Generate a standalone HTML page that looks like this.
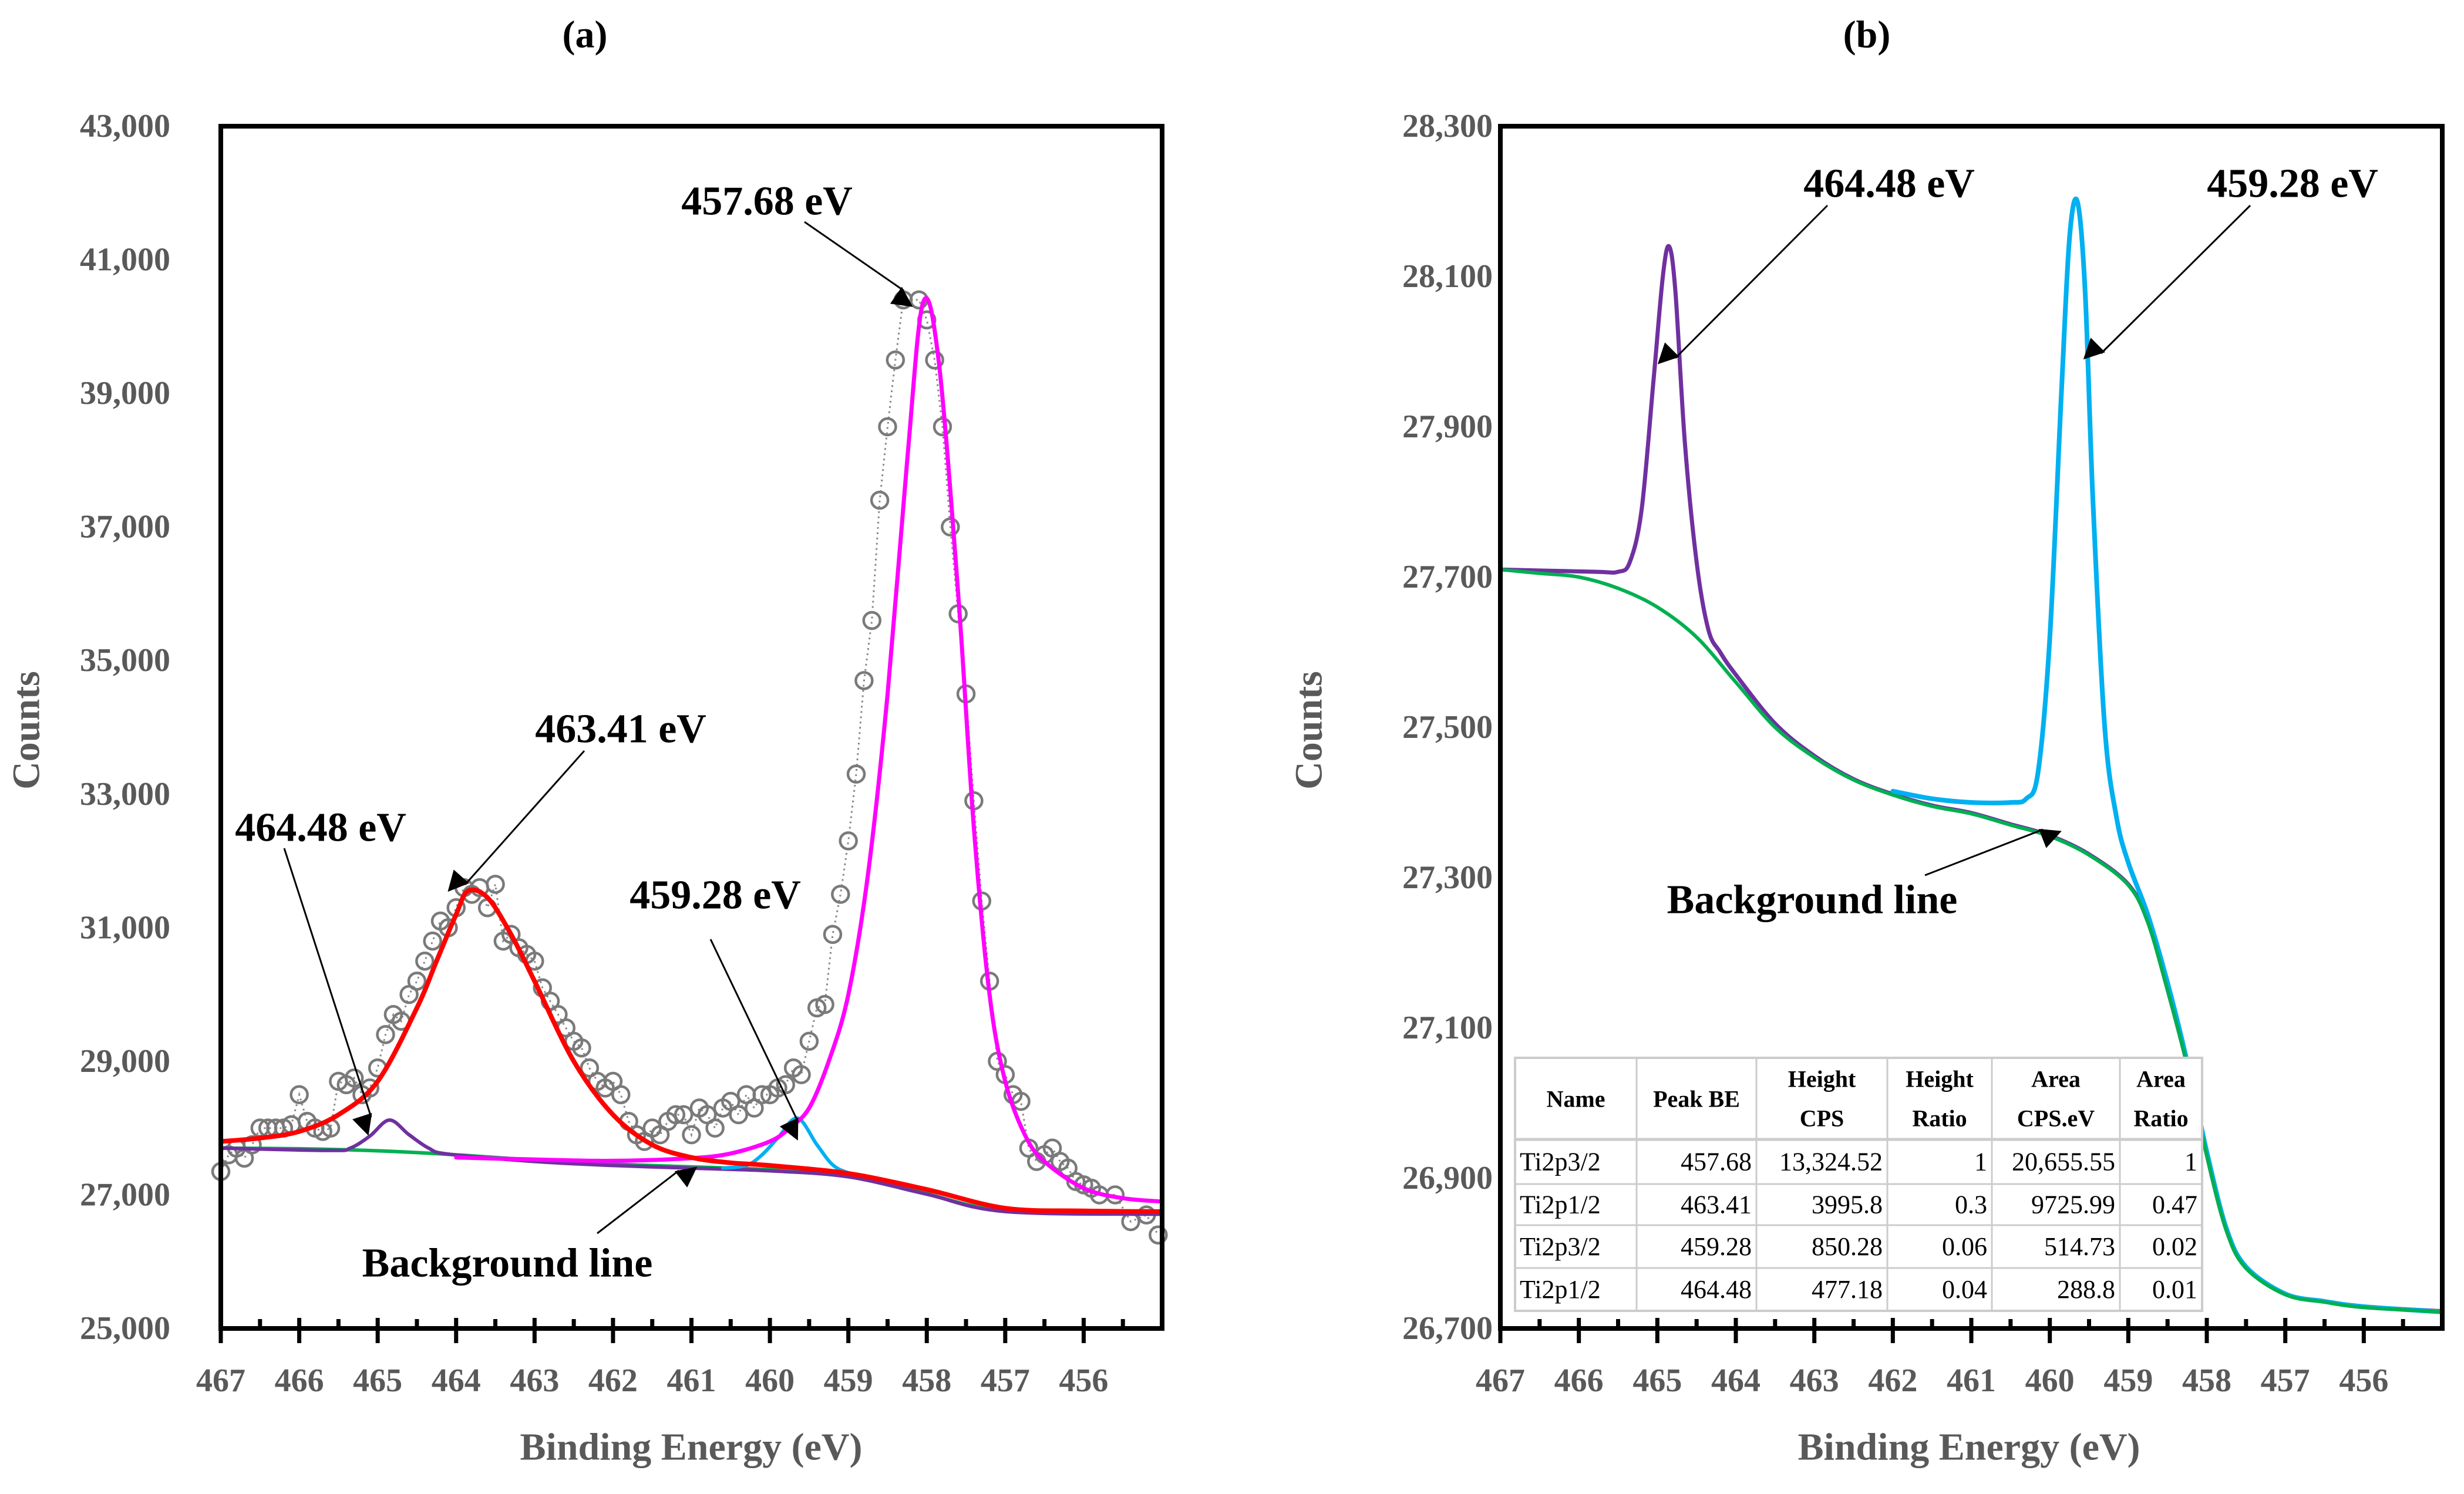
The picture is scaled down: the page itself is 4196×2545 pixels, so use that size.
<!DOCTYPE html>
<html><head><meta charset="utf-8">
<style>
html,body{margin:0;padding:0;background:#fff;}
svg{display:block;}
text{font-family:"Liberation Serif",serif;}
</style></head>
<body>
<svg id="fig" width="4196" height="2545" viewBox="0 0 4196 2545" xmlns="http://www.w3.org/2000/svg">
<defs>
<marker id="arr" viewBox="0 0 10 10" refX="9" refY="5" markerWidth="7" markerHeight="7" orient="auto" markerUnits="userSpaceOnUse" style="overflow:visible">
<path d="M0,0 L10,5 L0,10 z" fill="#000" transform="scale(5)"/>
</marker>
</defs>
<g id="gA"></g>
<g id="gB"></g>
</svg>
<script>
// ---------- Panel A data ----------
const aTicksX = [467,466,465,464,463,462,461,460,459,458,457,456];
const aTicksY = [25000,27000,29000,31000,33000,35000,37000,39000,41000,43000];
const aTickLabelsY = ["25,000","27,000","29,000","31,000","33,000","35,000","37,000","39,000","41,000","43,000"];
const aDataX = [467.0,466.9,466.8,466.7,466.6,466.5,466.4,466.3,466.2,466.1,466.0,465.9,465.8,465.7,465.6,465.5,465.4,465.3,465.2,465.1,465.0,464.9,464.8,464.7,464.6,464.5,464.4,464.3,464.2,464.1,464.0,463.9,463.8,463.7,463.6,463.5,463.4,463.3,463.2,463.1,463.0,462.9,462.8,462.7,462.6,462.5,462.4,462.3,462.2,462.1,462.0,461.9,461.8,461.7,461.6,461.5,461.4,461.3,461.2,461.1,461.0,460.9,460.8,460.7,460.6,460.5,460.4,460.3,460.2,460.1,460.0,459.9,459.8,459.7,459.6,459.5,459.4,459.3,459.2,459.1,459.0,458.9,458.8,458.7,458.6,458.5,458.4,458.3,458.1,458.0,457.9,457.8,457.7,457.6,457.5,457.4,457.3,457.2,457.1,457.0,456.9,456.8,456.7,456.6,456.5,456.4,456.3,456.2,456.1,456.0,455.9,455.8,455.6,455.4,455.2,455.05];
const aDataY = [27350,27600,27700,27550,27750,28000,28000,28000,28000,28050,28500,28100,28000,27950,28000,28700,28650,28750,28500,28600,28900,29400,29700,29600,30000,30200,30500,30800,31100,31000,31300,31600,31500,31600,31300,31650,30800,30900,30700,30600,30500,30100,29900,29700,29500,29300,29200,28900,28700,28600,28700,28500,28100,27900,27800,28000,27900,28100,28200,28200,27900,28300,28200,28000,28300,28400,28200,28500,28300,28500,28500,28600,28650,28900,28800,29300,29800,29850,30900,31500,32300,33300,34700,35600,37400,38500,39500,40400,40400,40100,39500,38500,37000,35700,34500,32900,31400,30200,29000,28800,28500,28400,27700,27500,27600,27700,27500,27400,27200,27150,27100,27000,27000,26600,26700,26400];
const aBgX = [467,466,465,464,463,462,461,460,459.5,459,458.5,458,457.5,457,456,455];
const aBgY = [27700,27690,27660,27600,27520,27460,27420,27380,27340,27280,27180,27020,26860,26760,26720,26720];
const aRedX = [467,466.5,466,465.5,465,464.5,464.25,464,463.85,463.6,463.3,463,462.5,462,461.5,461,460.5,460,459,458,457,456,455];
const aRedY = [27800,27850,27950,28200,28700,29800,30500,31200,31550,31450,30900,30200,29000,28200,27750,27560,27480,27440,27320,27080,26800,26760,26750];
const aPurX = [467,465.6,465.35,465.1,464.85,464.6,464.35,464.1,463,462,461,460,459,458,457,455];
const aPurY = [27700,27665,27700,27880,28120,27900,27700,27610,27500,27440,27400,27360,27270,27010,26750,26710];
const aCyanX = [460.6,460.3,460.1,459.9,459.65,459.4,459.2,459.0,458.8];
const aCyanY = [27400,27440,27600,27850,28150,27750,27450,27330,27290];
const aPinkX = [464,463,462,461,460.5,460,459.75,459.5,459.25,459,458.75,458.5,458.25,458.05,457.85,457.6,457.4,457.2,457,456.75,456.5,456,455.5,455];
const aPinkY = [27560,27530,27510,27550,27620,27800,28000,28300,29000,30000,31800,34500,38000,40350,39500,36000,32500,30000,28700,27900,27500,27100,26950,26900];

// ---------- Panel B data ----------
const bTicksX = [467,466,465,464,463,462,461,460,459,458,457,456];
const bTicksY = [26700,26900,27100,27300,27500,27700,27900,28100,28300];
const bTickLabelsY = ["26,700","26,900","27,100","27,300","27,500","27,700","27,900","28,100","28,300"];
const bBgX = [467,466.5,466,465.5,465,464.5,464,463.5,463,462.5,462,461.5,461,460.5,460,459.5,459,458.75,458.5,458.25,458,457.75,457.5,457,456.5,456,455];
const bBgY = [27710,27705,27700,27685,27660,27620,27560,27500,27460,27430,27410,27395,27385,27370,27355,27330,27290,27240,27150,27050,26930,26830,26780,26745,26735,26728,26722];
const bPurX = [467,465.8,465.5,465.35,465.2,465.05,464.93,464.85,464.77,464.65,464.5,464.35,464.2,464.0,463.5,463,462.5,462,461.5,461,460.5,460,459.5,459,458.75,458.5,458.25,458,457.75,457.5,457,456.5,456,455];
const bPurY = [27710,27707,27707,27720,27790,27960,28100,28140,28080,27880,27720,27630,27600,27570,27505,27462,27431,27411,27396,27386,27371,27356,27331,27291,27241,27151,27051,26931,26831,26781,26746,26736,26729,26723];
const bCyanX = [462,461.5,461,460.5,460.3,460.15,460.0,459.85,459.75,459.65,459.55,459.45,459.3,459.15,459.0,458.75,458.5,458.25,458,457.75,457.5,457,456.5,456,455];
const bCyanY = [27415,27405,27400,27400,27405,27440,27620,27950,28150,28200,28080,27800,27500,27380,27320,27250,27160,27055,26935,26833,26782,26746,26736,26729,26722];
const tblHead = [["Name",""],["Peak BE",""],["Height","CPS"],["Height","Ratio"],["Area","CPS.eV"],["Area","Ratio"]];
const tblRows = [
 ["Ti2p3/2","457.68","13,324.52","1","20,655.55","1"],
 ["Ti2p1/2","463.41","3995.8","0.3","9725.99","0.47"],
 ["Ti2p3/2","459.28","850.28","0.06","514.73","0.02"],
 ["Ti2p1/2","464.48","477.18","0.04","288.8","0.01"]];

const NS = "http://www.w3.org/2000/svg";
function mk(tag, attrs, parent){
  const e = document.createElementNS(NS, tag);
  for (const k in attrs) e.setAttribute(k, attrs[k]);
  parent.appendChild(e);
  return e;
}
function txt(parent, s, x, y, size, opts){
  const t = mk('text', {x:x, y:y, 'font-size':size, 'font-weight':opts.w||'bold', fill:opts.c||'#000', 'text-anchor':opts.a||'middle', 'dominant-baseline':'central'}, parent);
  if (opts.tr) t.setAttribute('transform', opts.tr);
  t.textContent = s;
  return t;
}
function panel(L, R, T, B, x0, x1, y0, y1){
  const sx = v => L + (x0 - v) / (x0 - x1) * (R - L);
  const sy = v => B - (v - y0) / (y1 - y0) * (B - T);
  return {sx, sy};
}
function smoothPath(pts){
  let d = 'M' + pts[0][0].toFixed(1) + ',' + pts[0][1].toFixed(1);
  for (let i=0;i<pts.length-1;i++){
    const p0 = pts[Math.max(0,i-1)], p1 = pts[i], p2 = pts[i+1], p3 = pts[Math.min(pts.length-1,i+2)];
    const c1x = p1[0] + (p2[0]-p0[0])/6, c1y = p1[1] + (p2[1]-p0[1])/6;
    const c2x = p2[0] - (p3[0]-p1[0])/6, c2y = p2[1] - (p3[1]-p1[1])/6;
    d += 'C' + c1x.toFixed(1)+','+c1y.toFixed(1)+' '+c2x.toFixed(1)+','+c2y.toFixed(1)+' '+p2[0].toFixed(1)+','+p2[1].toFixed(1);
  }
  return d;
}
function curve(g, xs, ys, ax, color, w, name){
  const pts = xs.map((x,i)=>[ax.sx(x), ax.sy(ys[i])]);
  const p = mk('path', {d:smoothPath(pts), fill:'none', stroke:color, 'stroke-width':w, 'stroke-linejoin':'round', 'stroke-linecap':'round'}, g);
  
  
  return p;
}
function frame(g, L, R, T, B, ax, ticksX, ticksY, labelsY, labRight, xCenter, countsX){
  const f = mk('rect', {x:L, y:T, width:R-L, height:B-T, fill:'none', stroke:'#000', 'stroke-width':8}, g);
  
  
  for (let i=0;i<ticksX.length;i++){
    const x = ax.sx(ticksX[i]);
    const tk = mk('line', {x1:x, x2:x, y1:B-18, y2:B+25, stroke:'#000', 'stroke-width':7}, g);
    
    
    const mx = ax.sx(ticksX[i]-0.5);
    const mt = mk('line', {x1:mx, x2:mx, y1:B-16, y2:B, stroke:'#000', 'stroke-width':7}, g);
    
    
    const lb = txt(g, String(ticksX[i]), x, 2352, 56, {c:'#595959'});
    
    
  }
  for (let i=0;i<ticksY.length;i++){
    const lb = txt(g, labelsY[i], labRight, ax.sy(ticksY[i]), 56, {c:'#595959', a:'end'});
    
    
  }
  const xt = txt(g, 'Binding Energy (eV)', xCenter, 2465, 66, {c:'#595959'});
  
  
  const yt = txt(g, 'Counts', countsX, 1244, 66, {c:'#595959', tr:'rotate(-90 '+countsX+' 1244)'});
  
  
}
function annot(g, label, tx, ty, x1, y1, x2, y2, name){
  const t = txt(g, label, tx, ty, 70, {});
  
  
  const l = mk('line', {x1:x1, y1:y1, x2:x2, y2:y2, stroke:'#000', 'stroke-width':3, 'marker-end':'url(#arr)'}, g);
  
  
}

// ---------- Draw panel A ----------
const gA = document.getElementById('gA');
const axA = panel(376, 1979, 215, 2263, 467, 455, 25000, 43000);
const ta = txt(gA, '(a)', 996, 59, 66, {});


let dd = '';
for (let i=0;i<aDataX.length;i++) dd += (i?'L':'M') + axA.sx(aDataX[i]).toFixed(1) + ',' + axA.sy(aDataY[i]).toFixed(1);
const dl = mk('path', {d:dd, fill:'none', stroke:'#888', 'stroke-width':3, 'stroke-dasharray':'3 6'}, gA);


for (let i=0;i<aDataX.length;i++){
  const c = mk('circle', {cx:axA.sx(aDataX[i]), cy:axA.sy(aDataY[i]), r:14, fill:'none', stroke:'#7a7a7a', 'stroke-width':4.5}, gA);
  
  
}
curve(gA, aBgX, aBgY, axA, '#00b050', 6, 'background-line');
curve(gA, aPurX, aPurY, axA, '#7030a0', 6, 'peak-464-48');
curve(gA, aCyanX, aCyanY, axA, '#00b0f0', 6, 'peak-459-28');
curve(gA, aPinkX, aPinkY, axA, '#ff00ff', 7, 'peak-457-68');
curve(gA, aRedX, aRedY, axA, '#ff0000', 8, 'peak-463-41');
frame(gA, 376, 1979, 215, 2263, axA, aTicksX, aTicksY, aTickLabelsY, 290, 1177, 45);
annot(gA, '457.68 eV', 1306, 343, 1370, 378, 1539, 495, 'annot-457-68');
annot(gA, '463.41 eV', 1057, 1242, 995, 1279, 792, 1507, 'annot-463-41');
annot(gA, '464.48 eV', 546, 1410, 484, 1445, 632, 1903, 'annot-a-464-48');
annot(gA, '459.28 eV', 1218, 1525, 1210, 1600, 1359, 1911, 'annot-a-459-28');
annot(gA, 'Background line', 864, 2152, 1017, 2101, 1156, 1994, 'annot-a-background');

// ---------- Draw panel B ----------
const gB = document.getElementById('gB');
const axB = panel(2555, 4159, 215, 2263, 467, 455, 26700, 28300);
const tb = txt(gB, '(b)', 3179, 59, 66, {});


curve(gB, bPurX, bPurY, axB, '#7030a0', 7, 'peak-464-48');
curve(gB, bCyanX, bCyanY, axB, '#00b0f0', 8, 'peak-459-28');
curve(gB, bBgX, bBgY, axB, '#00b050', 6, 'background-line');
const colX = [2580,2787,2991,3214,3392,3610,3750];
const rowY = [1802,1941,2017,2087,2160,2233];
const tg = mk('g', {}, gB);


mk('rect', {x:colX[0], y:rowY[0], width:colX[6]-colX[0], height:rowY[5]-rowY[0], fill:'#fff', stroke:'#ccc', 'stroke-width':4}, tg);
for (let i=1;i<6;i++) mk('line', {x1:colX[i], x2:colX[i], y1:rowY[0], y2:rowY[5], stroke:'#ccc', 'stroke-width':3}, tg);
for (let j=1;j<5;j++) mk('line', {x1:colX[0], x2:colX[6], y1:rowY[j], y2:rowY[j], stroke:'#ccc', 'stroke-width':j==1?5:3}, tg);
for (let i=0;i<6;i++){
  const cx = (colX[i]+colX[i+1])/2;
  if (tblHead[i][1]){
    const h1 = txt(tg, tblHead[i][0], cx, 1838, 40, {});
    
    
    const h2 = txt(tg, tblHead[i][1], cx, 1905, 40, {});
    
    
  } else {
    const h = txt(tg, tblHead[i][0], cx, 1872, 40, {});
    
    
  }
}
for (let r=0;r<4;r++){
  const cy = (rowY[r+1]+rowY[r+2])/2;
  for (let i=0;i<6;i++){
    const t = i==0 ? txt(tg, tblRows[r][i], colX[0]+8, cy, 44, {w:'normal', a:'start'})
                   : txt(tg, tblRows[r][i], colX[i+1]-8, cy, 44, {w:'normal', a:'end'});
    
    
  }
}
frame(gB, 2555, 4159, 215, 2263, axB, bTicksX, bTicksY, bTickLabelsY, 2542, 3353, 2229);
annot(gB, '464.48 eV', 3217, 313, 3112, 350, 2853, 610, 'annot-b-464-48');
annot(gB, '459.28 eV', 3904, 313, 3832, 350, 3578, 602, 'annot-b-459-28');
annot(gB, 'Background line', 3086, 1533, 3278, 1491, 3479, 1413, 'annot-b-background');
</script>
</body></html>
